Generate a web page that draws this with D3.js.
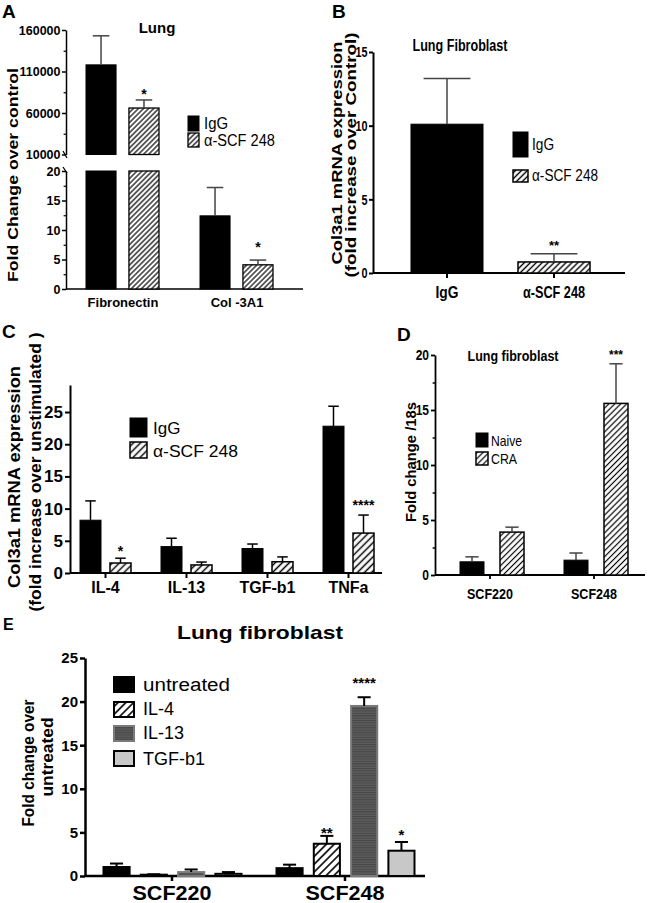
<!DOCTYPE html>
<html><head><meta charset="utf-8">
<script src="https://cdn.jsdelivr.net/npm/d3@7"></script>
<style>body{margin:0;background:#fff} svg{display:block}</style>
</head><body><svg id="c" width="650" height="903"></svg>
<script>
// ---------- DATA ----------
// Panel A (broken axis)
const catsA = ["Fibronectin", "Col -3A1"];
const seriesA = ["IgG", "α-SCF 248"];
const valsA = [[118000, 12.4], [66000, 4.1]];
const semsA = [[35000, 4.8], [9700, 0.8]];
const starsA = [["", ""], ["*", "*"]];
const starPosA = [[null, null], [86500, 7.5]];
const ticksAUpper = [10000, 60000, 110000, 160000];
const ticksALower = [0, 5, 10, 15, 20];
// Panel B
const catsB = ["IgG", "α-SCF 248"];
const valsB = [10.1, 0.75];
const semsB = [3.1, 0.55];
const starsB = ["", "**"];
const starPosB = [null, 2.05];
const ticksB = [0, 5, 10, 15];
// Panel C
const catsC = ["IL-4", "IL-13", "TGF-b1", "TNFa"];
const seriesC = ["IgG", "α-SCF 248"];
const valsC = [[8.2, 4.1, 3.8, 22.8], [1.55, 1.25, 1.75, 6.2]];
const semsC = [[3.0, 1.3, 0.7, 3.1], [0.75, 0.45, 0.75, 2.8]];
const starsC = [["", "", "", ""], ["*", "", "", "****"]];
const starPosC = [[null, null, null, null], [3.9, null, null, 11.0]];
const ticksC = [0, 5, 10, 15, 20, 25];
// Panel D
const catsD = ["SCF220", "SCF248"];
const seriesD = ["Naive", "CRA"];
const valsD = [[1.2, 1.35], [3.9, 15.6]];
const semsD = [[0.45, 0.65], [0.45, 3.6]];
const starsD = [["", ""], ["", "***"]];
const starPosD = [[null, null], [null, 20.2]];
const ticksD = [0, 5, 10, 15, 20];
// Panel E
const catsE = ["SCF220", "SCF248"];
const seriesE = ["untreated", "IL-4", "IL-13", "TGF-b1"];
const valsE = [[1.03, 0.9], [0.15, 3.7], [0.45, 19.5], [0.25, 2.9]];
const semsE = [[0.4, 0.4], [0.05, 0.9], [0.3, 1.0], [0.2, 1.0]];
const starsE = [["", ""], ["", "**"], ["", "****"], ["", "*"]];
const starPosE = [[null, null], [null, 5.3], [null, 22.5], [null, 5.1]];
const ticksE = [0, 5, 10, 15, 20, 25];

// ---------- SETUP ----------
const FONT = "'Liberation Sans', Arial, Helvetica, sans-serif";
const svg = d3.select("#c").attr("font-family", FONT);
const defs = svg.append("defs");
function hatch(id, sp, sw) {
  const p = defs.append("pattern").attr("id", id).attr("patternUnits", "userSpaceOnUse")
    .attr("width", sp).attr("height", sp).attr("patternTransform", "rotate(45)");
  p.append("rect").attr("width", sp).attr("height", sp).attr("fill", "#fff");
  p.append("line").attr("x1", sp / 2).attr("x2", sp / 2).attr("y1", -1).attr("y2", sp + 1)
    .attr("stroke", "#000").attr("stroke-width", sw);
}
hatch("hA", 3.6, 1.2);
hatch("hB", 4.2, 1.4);
hatch("hC", 5, 1.5);
hatch("hD", 4.2, 1.2);
hatch("hE", 5.5, 1.6);
{
  const p = defs.append("pattern").attr("id", "hz").attr("patternUnits", "userSpaceOnUse")
    .attr("width", 4).attr("height", 2.4);
  p.append("rect").attr("width", 4).attr("height", 2.4).attr("fill", "#5c5c5c");
  p.append("line").attr("x1", 0).attr("x2", 4).attr("y1", 0.6).attr("y2", 0.6)
    .attr("stroke", "#444").attr("stroke-width", 0.9);
}

function T(g, x, y, s, o = {}) {
  const t = g.append("text").attr("x", x).attr("y", y).text(s)
    .attr("font-size", o.size || 12).attr("font-weight", o.bold ? "bold" : "normal")
    .attr("text-anchor", o.anchor || "start").attr("fill", o.fill || "#000");
  if (o.len) t.attr("textLength", o.len).attr("lengthAdjust", "spacingAndGlyphs");
  if (o.rot) t.attr("transform", `rotate(-90,${x},${y})`);
  return t;
}
function styleAxis(g, w, size, bold, k) {
  g.selectAll("path.domain").attr("stroke", "#000").attr("stroke-width", w);
  g.selectAll(".tick line").attr("stroke", "#000").attr("stroke-width", w);
  g.selectAll("text").attr("font-size", size).attr("font-weight", bold ? "bold" : "normal")
    .attr("font-family", FONT).attr("fill", "#000");
  if (k && k !== 1) {
    g.selectAll("text").each(function () {
      const t = d3.select(this);
      const x = +t.attr("x") || 0;
      t.attr("transform", `scale(${k},1)`).attr("x", x / k);
    });
  }
}
function leftAxis(g, y, x, ticks, o) {
  const a = g.append("g").attr("transform", `translate(${x},0)`)
    .call(d3.axisLeft(y).tickValues(ticks).tickSize(o.tick).tickSizeOuter(0).tickPadding(o.pad).tickFormat(d3.format("d")));
  styleAxis(a, o.w, o.size, true, o.k);
  if (o.minor) {
    const m = g.append("g").attr("transform", `translate(${x},0)`)
      .call(d3.axisLeft(y).tickValues(o.minor).tickSize(o.tick * 0.6).tickFormat(""));
    m.select(".domain").remove();
    m.selectAll(".tick line").attr("stroke", "#000").attr("stroke-width", o.w * 0.8);
  }
  return a;
}
function bottomAxis(g, xo, y0, x0, x1, o) {
  const a = g.append("g").attr("transform", `translate(0,${y0})`)
    .call(d3.axisBottom(xo).tickSize(o.tick).tickSizeOuter(0));
  a.select(".domain").attr("d", `M${x0},0H${x1}`);
  styleAxis(a, o.w, o.size, true, 1);
  a.selectAll("text").attr("y", o.off).attr("dy", 0);
  if (o.lens) a.selectAll("text").each(function (d, i) {
    if (o.lens[i]) d3.select(this).attr("textLength", o.lens[i]).attr("lengthAdjust", "spacingAndGlyphs");
  });
  return a;
}
function errBar(g, cx, yv, ye, cap, col, w) {
  g.append("line").attr("x1", cx).attr("x2", cx).attr("y1", yv).attr("y2", ye).attr("stroke", col).attr("stroke-width", w);
  g.append("line").attr("x1", cx - cap / 2).attr("x2", cx + cap / 2).attr("y1", ye).attr("y2", ye).attr("stroke", col).attr("stroke-width", w);
}
function star(g, cx, y, s, size) {
  if (!s) return;
  T(g, cx, y + size * 0.55, s, { size: size, bold: true, anchor: "middle" });
}
function grouped(g, cats, series, vals, sems, stars, starPos, xo, xi, y, styles, o) {
  series.forEach((s, si) => cats.forEach((c, ci) => {
    const x = xo(c) + xi(s), w = xi.bandwidth(), v = vals[si][ci], st = styles[si];
    g.append("rect").attr("x", x).attr("y", y(v)).attr("width", w).attr("height", y(0) - y(v))
      .attr("fill", st.fill).attr("stroke", st.stroke).attr("stroke-width", st.sw);
    errBar(g, x + w / 2, y(v), y(v + sems[si][ci]), w * o.cap, o.ecol, o.ew);
    if (stars[si][ci]) star(g, x + w / 2, y(starPos[si][ci]), stars[si][ci], o.star);
  }));
}
function swatch(g, x, y, w, h, st) {
  g.append("rect").attr("x", x).attr("y", y).attr("width", w).attr("height", h)
    .attr("fill", st.fill).attr("stroke", st.stroke).attr("stroke-width", st.sw);
}

// ---------- PANEL A ----------
{
  const g = svg.append("g");
  T(g, 2, 18, "A", { size: 19, bold: true });
  T(g, 157, 33, "Lung", { size: 15, bold: true, anchor: "middle" });
  T(g, 18, 175, "Fold Change over control", { size: 14, bold: true, anchor: "middle", rot: true, len: 214 });
  const yUp = d3.scaleLinear([10000, 160000], [154.5, 30]);
  const yLo = d3.scaleLinear([0, 20], [289, 171]);
  const xo = d3.scaleBand(catsA, [66, 294]);
  const xi = d3.scaleBand(seriesA, [20, 93]).paddingInner(0.3);
  const yv = v => v > 20 ? yUp(v) : yLo(v);
  leftAxis(g, yUp, 66, ticksAUpper, { tick: 4, pad: 1.5, w: 1.5, size: 12.5, minor: [35000, 85000, 135000] });
  leftAxis(g, yLo, 66, ticksALower, { tick: 4, pad: 1.5, w: 1.5, size: 12.5, minor: [2.5, 7.5, 12.5, 17.5] });
  // break marks
  g.append("path").attr("d", "M63,151 L67,158").attr("stroke", "#000").attr("stroke-width", 1.3).attr("fill", "none");
  g.append("path").attr("d", "M63,167 L67,173").attr("stroke", "#000").attr("stroke-width", 1.3).attr("fill", "none");
  bottomAxis(g, xo, 289, 66, 303, { tick: 0, w: 1.5, size: 13, off: 18 });
  const styles = [{ fill: "#000", stroke: "#000", sw: 1 }, { fill: "url(#hA)", stroke: "#000", sw: 1.3 }];
  seriesA.forEach((s, si) => catsA.forEach((c, ci) => {
    const x = xo(c) + xi(s), w = xi.bandwidth(), v = valsA[si][ci], st = styles[si];
    if (v > 20) {
      g.append("rect").attr("x", x).attr("y", yLo(20)).attr("width", w).attr("height", yLo(0) - yLo(20))
        .attr("fill", st.fill).attr("stroke", st.stroke).attr("stroke-width", st.sw);
      g.append("rect").attr("x", x).attr("y", yUp(v)).attr("width", w).attr("height", yUp(10000) - yUp(v))
        .attr("fill", st.fill).attr("stroke", st.stroke).attr("stroke-width", st.sw);
    } else {
      g.append("rect").attr("x", x).attr("y", yLo(v)).attr("width", w).attr("height", yLo(0) - yLo(v))
        .attr("fill", st.fill).attr("stroke", st.stroke).attr("stroke-width", st.sw);
    }
    errBar(g, x + w / 2, yv(v), yv(v + semsA[si][ci]), w * 0.55, "#444", 1.5);
    if (starsA[si][ci]) star(g, x + w / 2, yv(starPosA[si][ci]), starsA[si][ci], 14);
  }));
  swatch(g, 188, 116, 11, 15, styles[0]);
  swatch(g, 188, 133, 11, 14, styles[1]);
  T(g, 204, 129, seriesA[0], { size: 16, len: 24 });
  T(g, 204, 146, seriesA[1], { size: 16, len: 71 });
}

// ---------- PANEL B ----------
{
  const g = svg.append("g");
  T(g, 332, 18, "B", { size: 19, bold: true });
  T(g, 460, 51, "Lung Fibroblast", { size: 16, bold: true, anchor: "middle", len: 95 });
  T(g, 342, 153, "Col3a1 mRNA expression", { size: 14.5, bold: true, anchor: "middle", rot: true, len: 223 });
  T(g, 356, 155, "(fold increase over Control)", { size: 14.5, bold: true, anchor: "middle", rot: true, len: 245 });
  const y = d3.scaleLinear([0, 15], [273, 52]);
  const x = d3.scaleBand(catsB, [373, 628]).paddingInner(0.327).paddingOuter(0.355);
  leftAxis(g, y, 373, ticksB, { tick: 4, pad: 1.5, w: 2, size: 15, k: 0.72 });
  bottomAxis(g, x, 273, 373, 625, { tick: 5, w: 2, size: 17, off: 25, lens: [23, 62] });
  const st = [{ fill: "#000", stroke: "#000", sw: 1 }, { fill: "url(#hB)", stroke: "#000", sw: 1.5 }];
  catsB.forEach((c, i) => {
    const w = x.bandwidth(), v = valsB[i];
    g.append("rect").attr("x", x(c)).attr("y", y(v)).attr("width", w).attr("height", y(0) - y(v))
      .attr("fill", st[i].fill).attr("stroke", st[i].stroke).attr("stroke-width", st[i].sw);
    errBar(g, x(c) + w / 2, y(v), y(v + semsB[i]), w * 0.65, "#444", 1.5);
    if (starsB[i]) star(g, x(c) + w / 2, y(starPosB[i]), starsB[i], 13);
  });
  swatch(g, 513, 132, 15, 25, st[0]);
  swatch(g, 513, 170, 15, 12, st[1]);
  T(g, 532, 150, "IgG", { size: 17, len: 22 });
  T(g, 532, 181, "α-SCF 248", { size: 17, len: 66 });
}

// ---------- PANEL C ----------
{
  const g = svg.append("g");
  T(g, 2, 338, "C", { size: 19, bold: true });
  T(g, 20, 477, "Col3a1 mRNA expression", { size: 16, bold: true, anchor: "middle", rot: true, len: 222 });
  T(g, 41, 472, "(fold increase over unstimulated )", { size: 16, bold: true, anchor: "middle", rot: true, len: 279 });
  const y = d3.scaleLinear([0, 29.2], [573, 385]);
  const xo = d3.scaleBand(catsC, [65, 389]);
  const xi = d3.scaleBand(seriesC, [15, 66]).paddingInner(0.3);
  leftAxis(g, y, 70, ticksC, { tick: 5, pad: 2, w: 2, size: 17 });
  bottomAxis(g, xo, 573, 70, 382, { tick: 5, w: 2, size: 16, off: 20 });
  const st = [{ fill: "#000", stroke: "#000", sw: 1 }, { fill: "url(#hC)", stroke: "#000", sw: 1.5 }];
  grouped(g, catsC, seriesC, valsC, semsC, starsC, starPosC, xo, xi, y, st, { cap: 0.5, ecol: "#000", ew: 1.5, star: 14 });
  swatch(g, 130, 418, 17, 19, st[0]);
  swatch(g, 130, 442, 17, 16, st[1]);
  T(g, 153, 434, seriesC[0], { size: 17 });
  T(g, 153, 457, seriesC[1], { size: 17, len: 85 });
}

// ---------- PANEL D ----------
{
  const g = svg.append("g");
  T(g, 397, 341, "D", { size: 19, bold: true });
  T(g, 513, 361, "Lung fibroblast", { size: 15, bold: true, anchor: "middle", len: 91 });
  T(g, 416, 462, "Fold change /18s", { size: 14, bold: true, anchor: "middle", rot: true, len: 120 });
  const y = d3.scaleLinear([0, 20], [575, 355]);
  const xo = d3.scaleBand(catsD, [438, 646]);
  const xi = d3.scaleBand(seriesD, [22, 86]).paddingInner(0.4);
  leftAxis(g, y, 435, ticksD, { tick: 4, pad: 2, w: 1.8, size: 15, k: 0.8, minor: [2.5, 7.5, 12.5, 17.5] });
  bottomAxis(g, xo, 575, 435, 645, { tick: 4, w: 1.8, size: 15, off: 24, lens: [46, 46] });
  const st = [{ fill: "#000", stroke: "#000", sw: 1 }, { fill: "url(#hD)", stroke: "#000", sw: 1.5 }];
  grouped(g, catsD, seriesD, valsD, semsD, starsD, starPosD, xo, xi, y, st, { cap: 0.55, ecol: "#444", ew: 1.5, star: 12 });
  swatch(g, 476, 433, 12, 14, st[0]);
  swatch(g, 476, 452, 12, 13, st[1]);
  T(g, 491, 446, seriesD[0], { size: 15, len: 31 });
  T(g, 491, 464, seriesD[1], { size: 15, len: 26 });
}

// ---------- PANEL E ----------
{
  const g = svg.append("g");
  T(g, 3, 630, "E", { size: 16, bold: true });
  T(g, 260, 639, "Lung fibroblast", { size: 19, bold: true, anchor: "middle", len: 166 });
  T(g, 34, 763, "Fold change over", { size: 16, bold: true, anchor: "middle", rot: true, len: 127 });
  T(g, 53, 757, "untreated", { size: 16, bold: true, anchor: "middle", rot: true, len: 79 });
  const y = d3.scaleLinear([0, 25], [876, 658]);
  const xo = d3.scaleBand(catsE, [85.5, 431.5]);
  const xi = d3.scaleBand(seriesE, [18, 156]).paddingInner(0.3);
  leftAxis(g, y, 85, ticksE, { tick: 5, pad: 2, w: 2.5, size: 15 });
  bottomAxis(g, xo, 876, 85, 425, { tick: 5, w: 2.5, size: 20, off: 24, lens: [79, 79] });
  const st = [
    { fill: "#000", stroke: "#000", sw: 2 },
    { fill: "url(#hE)", stroke: "#000", sw: 2 },
    { fill: "url(#hz)", stroke: "#7a7a7a", sw: 2 },
    { fill: "#c8c8c8", stroke: "#000", sw: 2 }
  ];
  grouped(g, catsE, seriesE, valsE, semsE, starsE, starPosE, xo, xi, y, st, { cap: 0.5, ecol: "#000", ew: 2, star: 15 });
  const ly = [677, 702, 726, 751];
  seriesE.forEach((s, i) => {
    swatch(g, 114, ly[i], 20, 15, st[i]);
  });
  T(g, 143, 691, seriesE[0], { size: 18, len: 87 });
  T(g, 143, 715, seriesE[1], { size: 18 });
  T(g, 143, 739, seriesE[2], { size: 18 });
  T(g, 143, 765, seriesE[3], { size: 18 });
}
</script></body></html>
